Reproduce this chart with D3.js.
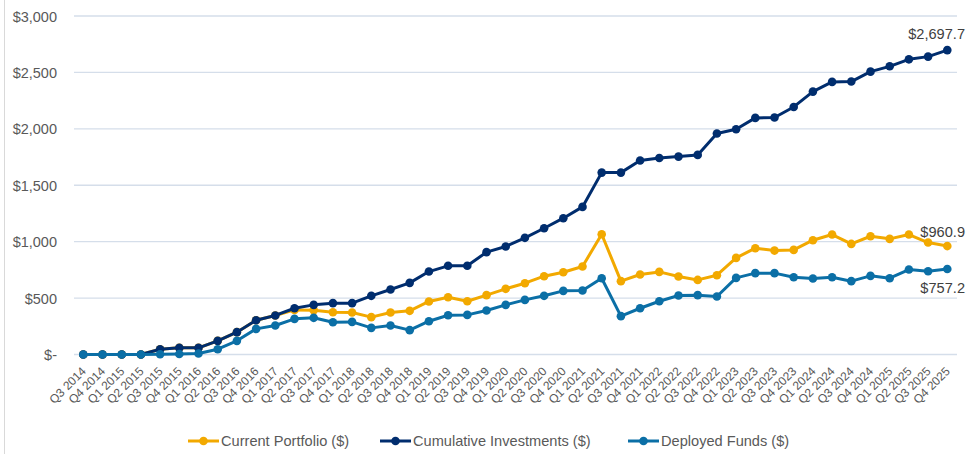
<!DOCTYPE html>
<html>
<head>
<meta charset="utf-8">
<script src="https://cdn.jsdelivr.net/npm/d3@7"></script>
<style>
  body { margin: 0; background: #fff; }
  svg { font-family: "Liberation Sans", Arial, sans-serif; }
</style>
</head>
<body>
<svg width="966" height="454"></svg>
<script>
const quarters = ["Q3 2014", "Q4 2014",
  "Q1 2015", "Q2 2015", "Q3 2015", "Q4 2015",
  "Q1 2016", "Q2 2016", "Q3 2016", "Q4 2016",
  "Q1 2017", "Q2 2017", "Q3 2017", "Q4 2017",
  "Q1 2018", "Q2 2018", "Q3 2018", "Q4 2018",
  "Q1 2019", "Q2 2019", "Q3 2019", "Q4 2019",
  "Q1 2020", "Q2 2020", "Q3 2020", "Q4 2020",
  "Q1 2021", "Q2 2021", "Q3 2021", "Q4 2021",
  "Q1 2022", "Q2 2022", "Q3 2022", "Q4 2022",
  "Q1 2023", "Q2 2023", "Q3 2023", "Q4 2023",
  "Q1 2024", "Q2 2024", "Q3 2024", "Q4 2024",
  "Q1 2025", "Q2 2025", "Q3 2025", "Q4 2025"];

const currentPortfolio = [0, 0, 0, 0, 47, 59, 59, 121, 198, 304,
  346, 395, 393, 375, 372, 331, 372, 387, 470, 508,
  472, 526, 582, 632, 694, 729, 780, 1066, 650, 709,
  732, 691, 661, 703, 856, 942, 921, 927, 1013, 1063,
  980, 1048, 1025, 1063, 992, 960.9];

const cumulativeInvestments = [0, 0, 0, 0, 47, 59, 59, 121, 198, 304,
  346, 410, 440, 455, 455, 520, 576, 635, 735, 786,
  786, 907, 957, 1034, 1119, 1208, 1308, 1612, 1612, 1719,
  1742, 1754, 1769, 1958, 1996, 2097, 2100, 2194, 2330, 2416,
  2419, 2507, 2554, 2616, 2640, 2697.7];

const deployedFunds = [0, 0, 0, 0, 2, 5, 9, 47, 121, 227,
  257, 316, 325, 286, 289, 236, 257, 216, 295, 348,
  351, 390, 440, 484, 520, 564, 567, 676, 340, 410,
  472, 523, 526, 514, 679, 721, 721, 685, 673, 685,
  650, 697, 676, 753, 738, 757.2];

const yTicks = [0, 500, 1000, 1500, 2000, 2500, 3000];

const series = [
  { name: "Current Portfolio ($)", values: currentPortfolio, color: "#F2A900" },
  { name: "Cumulative Investments ($)", values: cumulativeInvestments, color: "#002D6E" },
  { name: "Deployed Funds ($)", values: deployedFunds, color: "#0B6FA6" }
];

const svg = d3.select("svg");

// outer border line on the left
svg.append("line")
  .attr("x1", 4.5).attr("x2", 4.5)
  .attr("y1", 0).attr("y2", 454)
  .attr("stroke", "#d9d9d9")
  .attr("stroke-width", 1);

const x = d3.scalePoint()
  .domain(quarters)
  .range([83.3, 947.3]);

const y = d3.scaleLinear()
  .domain([0, 3000])
  .range([354.5, 16]);

const fmt = d => d === 0 ? "$-" : "$" + d3.format(",")(d);

// gridlines
svg.append("g")
  .selectAll("line")
  .data(yTicks)
  .enter().append("line")
  .attr("x1", 74).attr("x2", 957)
  .attr("y1", d => y(d)).attr("y2", d => y(d))
  .attr("stroke", "#D5DEEA")
  .attr("stroke-width", 1.3);

// Y ticks
const yAxis = svg.append("g")
  .attr("transform", "translate(57,0)")
  .call(d3.axisLeft(y).tickValues(yTicks).tickFormat(fmt).tickSize(0).tickPadding(0));
yAxis.select(".domain").remove();
yAxis.selectAll("text")
  .attr("fill", "#595959")
  .style("font-size", "14.5px")
  .attr("dy", "0.35em");

// X ticks
const xAxis = svg.append("g")
  .attr("transform", "translate(0,359)")
  .call(d3.axisBottom(x).tickSize(0).tickPadding(0));
xAxis.select(".domain").remove();
xAxis.selectAll("text")
  .attr("fill", "#595959")
  .style("font-size", "12px")
  .attr("text-anchor", "end")
  .attr("x", 0)
  .attr("y", 0)
  .attr("dy", "0.35em")
  .attr("transform", "translate(0,10) rotate(-45)");

// lines
const line = d3.line()
  .x((d, i) => x(quarters[i]))
  .y(d => y(d));

series.forEach(s => {
  const g = svg.append("g");
  g.append("path")
    .datum(s.values)
    .attr("d", line)
    .attr("fill", "none")
    .attr("stroke", s.color)
    .attr("stroke-width", 3)
    .attr("stroke-linejoin", "round");
  g.selectAll("circle")
    .data(s.values)
    .enter().append("circle")
    .attr("cx", (d, i) => x(quarters[i]))
    .attr("cy", d => y(d))
    .attr("r", 4.3)
    .attr("fill", s.color);
});

// end labels
const last = quarters.length - 1;
const endLabels = [
  { v: cumulativeInvestments[last], dy: -11 },
  { v: currentPortfolio[last], dy: -9 },
  { v: deployedFunds[last], dy: 24 }
];
svg.append("g")
  .selectAll("text")
  .data(endLabels)
  .enter().append("text")
  .attr("x", 965)
  .attr("y", d => y(d.v) + d.dy)
  .attr("text-anchor", "end")
  .attr("fill", "#404040")
  .style("font-size", "14.6px")
  .text(d => "$" + d3.format(",.1f")(d.v));

// legend
const legendX = [188, 380, 628];
const legend = svg.append("g")
  .attr("transform", "translate(0,441)");
const items = legend.selectAll("g")
  .data(series)
  .enter().append("g")
  .attr("transform", (d, i) => `translate(${legendX[i]},0)`);
items.append("line")
  .attr("x1", 0).attr("x2", 31)
  .attr("stroke", d => d.color)
  .attr("stroke-width", 3);
items.append("circle")
  .attr("cx", 15.5)
  .attr("r", 4.3)
  .attr("fill", d => d.color);
items.append("text")
  .attr("x", 33)
  .attr("dy", "0.35em")
  .attr("fill", "#595959")
  .style("font-size", "14.6px")
  .text(d => d.name);
</script>
</body>
</html>
